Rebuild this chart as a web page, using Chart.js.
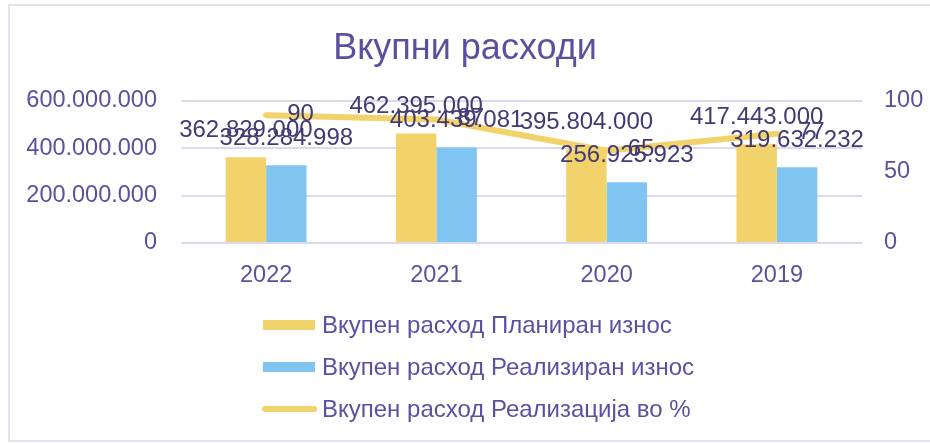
<!DOCTYPE html>
<html>
<head>
<meta charset="utf-8">
<script src="https://cdn.jsdelivr.net/npm/chart.js@4.4.1/dist/chart.umd.min.js"></script>
<style>
  html, body { margin: 0; padding: 0; background: #ffffff; }
  #wrap { width: 930px; height: 443px; position: relative; }
</style>
</head>
<body>
<div id="wrap"><canvas id="c" width="930" height="443"></canvas></div>
<script>
// ---- data ----
const titleText = 'Вкупни расходи';
const categories = ['2022', '2021', '2020', '2019'];
const plannedLabel = 'Вкупен расход Планиран износ';
const plannedValues = [362829000, 462395000, 395804000, 417443000];
const realizedLabel = 'Вкупен расход Реализиран износ';
const realizedValues = [328284998, 403439081, 256925923, 319632232];
const percentLabel = 'Вкупен расход Реализација во %';
const percentValues = [90, 87, 65, 77];
const leftTicks = [0, 200000000, 400000000, 600000000];
const rightTicks = [0, 50, 100];

// ---- styles ----
const FONT = "'Liberation Sans', Arial, sans-serif";
const TICK_COLOR = '#5b50a0';
const LABEL_COLOR = '#433a73';
const YELLOW = '#f2d36b';
const BLUE = '#80c5f2';
const GRID = '#dcd9ee';

function fmt(v) {
  return String(Math.round(v)).replace(/\B(?=(\d{3})+(?!\d))/g, '.');
}

const frame = {
  id: 'frame',
  beforeDraw(chart) {
    const ctx = chart.ctx;
    ctx.save();
    ctx.fillStyle = '#ffffff';
    ctx.fillRect(0, 0, chart.width, chart.height);
    ctx.strokeStyle = '#dcd8ee';
    ctx.lineWidth = 1.5;
    ctx.strokeRect(9, 5, chart.width + 20, 436);
    ctx.restore();
  }
};

const dataLabels = {
  id: 'dataLabels',
  afterDatasetsDraw(chart) {
    const ctx = chart.ctx;
    ctx.save();
    ctx.font = '24px ' + FONT;
    ctx.fillStyle = LABEL_COLOR;
    ctx.textBaseline = 'middle';
    chart.data.datasets.forEach((ds, i) => {
      const meta = chart.getDatasetMeta(i);
      meta.data.forEach((el, j) => {
        const v = ds.data[j];
        if (ds.type === 'line') {
          ctx.textAlign = 'left';
          ctx.fillText(String(v), el.x + 21, el.y - 1);
        } else {
          ctx.textAlign = 'center';
          ctx.fillText(fmt(v), el.x, el.y - 27);
        }
      });
    });
    ctx.restore();
  }
};

const customLegend = {
  id: 'customLegend',
  afterDraw(chart) {
    const ctx = chart.ctx;
    ctx.save();
    ctx.font = '24px ' + FONT;
    ctx.textBaseline = 'middle';
    ctx.textAlign = 'left';
    const rows = [325, 367, 409];
    chart.data.datasets.forEach((ds, i) => {
      const y = rows[i];
      if (ds.type === 'line') {
        ctx.strokeStyle = ds.borderColor;
        ctx.lineWidth = 6;
        ctx.lineCap = 'round';
        ctx.beginPath();
        ctx.moveTo(265, y);
        ctx.lineTo(314, y);
        ctx.stroke();
      } else {
        ctx.fillStyle = ds.backgroundColor;
        ctx.fillRect(263, y - 5, 52, 10);
      }
      ctx.fillStyle = TICK_COLOR;
      ctx.fillText(ds.label, 322, y + 1);
    });
    ctx.restore();
  }
};

new Chart(document.getElementById('c'), {
  type: 'bar',
  data: {
    labels: categories,
    datasets: [
      { type: 'bar', label: plannedLabel, data: plannedValues, backgroundColor: YELLOW, yAxisID: 'y', order: 2,
        categoryPercentage: 0.475, barPercentage: 1.0 },
      { type: 'bar', label: realizedLabel, data: realizedValues, backgroundColor: BLUE, yAxisID: 'y', order: 2,
        categoryPercentage: 0.475, barPercentage: 1.0 },
      { type: 'line', label: percentLabel, data: percentValues, borderColor: YELLOW, backgroundColor: YELLOW,
        borderWidth: 6, pointRadius: 0, borderCapStyle: 'round', borderJoinStyle: 'round', tension: 0,
        yAxisID: 'y1', order: 1 }
    ]
  },
  options: {
    responsive: false,
    animation: false,
    devicePixelRatio: 1,
    layout: { padding: { left: 0, right: 0, top: 0, bottom: 150 } },
    plugins: {
      legend: { display: false },
      tooltip: { enabled: false },
      title: {
        display: true,
        text: titleText,
        color: TICK_COLOR,
        font: { family: FONT, size: 36, weight: 'normal', lineHeight: 1.2 },
        padding: { top: 27, bottom: 30.8 }
      }
    },
    scales: {
      x: {
        grid: { display: false, drawTicks: false },
        border: { display: false },
        ticks: { color: TICK_COLOR, font: { family: FONT, size: 23.5 }, padding: 18 },
        afterFit(s) { s.height = 50; }
      },
      y: {
        position: 'left',
        min: 0, max: 600000000,
        afterBuildTicks(s) { s.ticks = leftTicks.map(v => ({ value: v })); },
        grid: { color: GRID, lineWidth: 2, drawTicks: false },
        border: { display: false },
        ticks: { color: TICK_COLOR, font: { family: FONT, size: 23.5 }, padding: 24, callback: v => fmt(v) },
        afterFit(s) { s.width = 181; }
      },
      y1: {
        position: 'right',
        min: 0, max: 100,
        afterBuildTicks(s) { s.ticks = rightTicks.map(v => ({ value: v })); },
        grid: { drawOnChartArea: false, drawTicks: false },
        border: { display: false },
        ticks: { color: TICK_COLOR, font: { family: FONT, size: 23.5 }, padding: 22 },
        afterFit(s) { s.width = 68; }
      }
    }
  },
  plugins: [frame, dataLabels, customLegend]
});
</script>
</body>
</html>
